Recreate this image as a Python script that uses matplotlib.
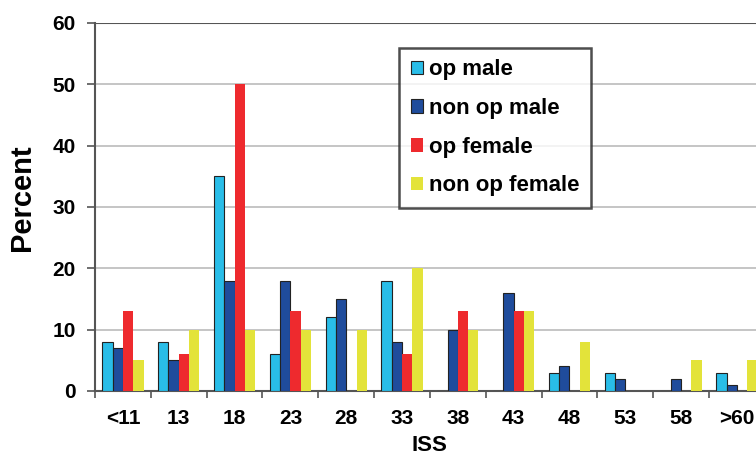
import matplotlib.pyplot as plt
import numpy as np

# Категории ISS и значения (в процентах) для каждой группы
CATEGORIES = ["<11", "13", "18", "23", "28", "33", "38", "43", "48", "53", "58", ">60"]
OP_MALE = [8, 8, 35, 6, 12, 18, 0, 0, 3, 3, 0, 3]
NON_OP_MALE = [7, 5, 18, 18, 15, 8, 10, 16, 4, 2, 2, 1]
OP_FEMALE = [13, 6, 50, 13, 0, 6, 13, 13, 0, 0, 0, 0]
NON_OP_FEMALE = [5, 10, 10, 10, 10, 20, 10, 13, 8, 0, 5, 5]
Y_TICKS = [0, 10, 20, 30, 40, 50, 60]

SERIES = [
    ("op male", OP_MALE, "#29BDE8", True),
    ("non op male", NON_OP_MALE, "#1F4C9C", True),
    ("op female", OP_FEMALE, "#EE2A2E", False),
    ("non op female", NON_OP_FEMALE, "#E3E33A", False),
]

plt.rcParams["font.family"] = ["Liberation Sans", "DejaVu Sans"]
plt.rcParams["font.weight"] = "bold"

fig = plt.figure(figsize=(7.56, 4.55), dpi=100)
# ось выходит за правый край — как в исходной картинке
ax = fig.add_axes([0.1257, 0.1407, 0.886, 0.8088])

x = np.arange(len(CATEGORIES))
width = 0.185
for k, (name, vals, color, edged) in enumerate(SERIES):
    ax.bar(
        x + (k - 1.5) * width,
        vals,
        width=width,
        color=color,
        edgecolor="#222222" if edged else color,
        linewidth=0.8 if edged else 0,
        label=name,
        zorder=3,
    )

ax.set_xlim(-0.5, len(CATEGORIES) - 0.5)
ax.set_ylim(0, 60)
ax.set_yticks(Y_TICKS)
ax.set_yticklabels([str(t) for t in Y_TICKS], fontsize=15, fontweight="bold")

# подписи категорий по центру, засечки — на границах
ax.set_xticks(x)
ax.set_xticklabels(CATEGORIES, fontsize=15, fontweight="bold")
ax.tick_params(axis="x", length=0, pad=13)
ax.set_xticks(np.arange(len(CATEGORIES) + 1) - 0.5, minor=True)
ax.tick_params(axis="x", which="minor", length=5, width=1.2, color="#555555")
ax.tick_params(axis="y", length=6, width=1.2, color="#555555", pad=8)

for t in Y_TICKS[1:-1]:
    ax.axhline(t, color="#BBBBBB", linewidth=1.2, zorder=1)
ax.axhline(60, color="#555555", linewidth=1.5, zorder=1)

ax.spines["top"].set_visible(False)
ax.spines["right"].set_visible(False)
ax.spines["left"].set_color("#555555")
ax.spines["left"].set_linewidth(1.5)
ax.spines["bottom"].set_color("#555555")
ax.spines["bottom"].set_linewidth(1.5)

ax.set_ylabel("Percent", fontsize=21, fontweight="bold")
ax.yaxis.set_label_coords(-0.088, 0.524)
ax.set_xlabel("ISS", fontsize=16, fontweight="bold")
ax.xaxis.set_label_coords(0.5, -0.12)

leg = ax.legend(
    loc="upper left",
    bbox_to_anchor=(0.4545, 0.932),
    fontsize=16,
    frameon=True,
    fancybox=False,
    edgecolor="#222222",
    handlelength=0.55,
    handleheight=0.55,
    handletextpad=0.3,
    labelspacing=0.8,
    borderpad=0.5,
    borderaxespad=0,
)
leg.get_frame().set_linewidth(1.8)
for txt in leg.get_texts():
    txt.set_fontweight("bold")

fig.savefig("out.png", dpi=100)
